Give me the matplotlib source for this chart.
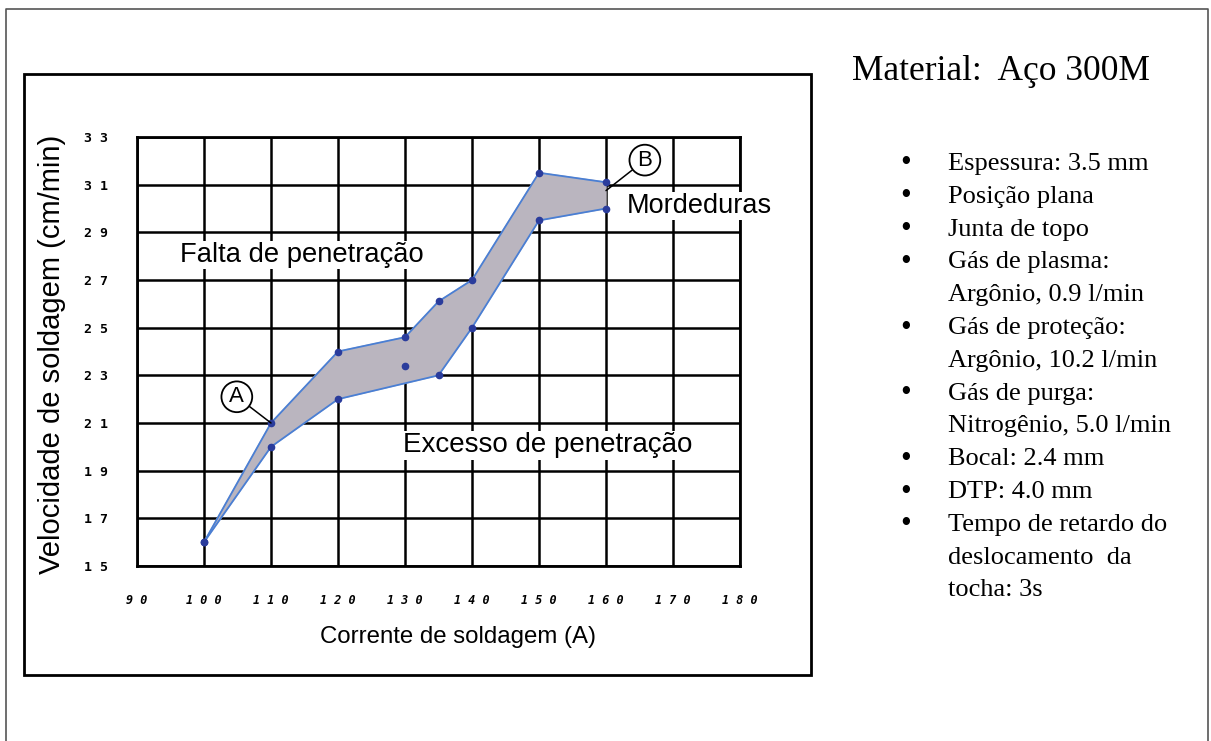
import matplotlib
matplotlib.use('Agg')
import matplotlib.pyplot as plt
from matplotlib.patches import Rectangle
from matplotlib.lines import Line2D

# dados ===================================================================================
corrente_sup = [100, 110, 120, 130, 135, 140, 150, 160]
velocidade_sup = [16, 21, 24, 24.6, 26.1, 27, 31.5, 31.1]
corrente_inf = [100, 110, 120, 135, 140, 150, 160]
velocidade_inf = [16, 20, 22, 23, 25, 29.5, 30]
corrente_extra = [130]
velocidade_extra = [23.4]

x_ticks = [90, 100, 110, 120, 130, 140, 150, 160, 170, 180]
x_tick_labels = ['9 0', '1 0 0', '1 1 0', '1 2 0', '1 3 0', '1 4 0', '1 5 0', '1 6 0', '1 7 0', '1 8 0']
y_ticks = [15, 17, 19, 21, 23, 25, 27, 29, 31, 33]
y_tick_labels = ['1 5', '1 7', '1 9', '2 1', '2 3', '2 5', '2 7', '2 9', '3 1', '3 3']

titulo = 'Material:  Aço 300M'
itens = [
    ['Espessura: 3.5 mm'],
    ['Posição plana'],
    ['Junta de topo'],
    ['Gás de plasma:', 'Argônio, 0.9 l/min'],
    ['Gás de proteção:', 'Argônio, 10.2 l/min'],
    ['Gás de purga:', 'Nitrogênio, 5.0 l/min'],
    ['Bocal: 2.4 mm'],
    ['DTP: 4.0 mm'],
    ['Tempo de retardo do', 'deslocamento  da', 'tocha: 3s'],
]

W, H = 1211, 741
fig = plt.figure(figsize=(W / 100, H / 100), dpi=100)
fig.patch.set_facecolor('white')


def fx(px):
    return px / W


def fy(py):
    return 1 - py / H


# molduras ================================================================================
fig.add_artist(Line2D([fx(6), fx(6), fx(1208), fx(1208)], [fy(760), fy(9), fy(9), fy(760)],
                      transform=fig.transFigure, color='#555555', lw=1.2))
fig.add_artist(Rectangle((fx(24), fy(675)), fx(811) - fx(24), fy(74) - fy(675),
                         transform=fig.transFigure, fill=False, ec='black', lw=2))

# grafico =================================================================================
ax = fig.add_axes([fx(137), fy(566), fx(740) - fx(137), fy(137) - fy(566)])
ax.set_xlim(90, 180)
ax.set_ylim(15, 33)
ax.set_xticks(x_ticks)
ax.set_xticklabels(x_tick_labels, family='DejaVu Sans Mono', fontsize=8.5,
                   weight='bold', style='italic')
ax.set_yticks(y_ticks)
ax.set_yticklabels(y_tick_labels, family='DejaVu Sans Mono', fontsize=9.5, weight='bold')
ax.tick_params(length=0)
ax.tick_params(axis='x', pad=20)
ax.tick_params(axis='y', pad=21)
ax.grid(True, color='black', lw=1.8)
ax.set_axisbelow(True)
for s in ax.spines.values():
    s.set_linewidth(2)

poly_x = corrente_sup + corrente_inf[::-1]
poly_y = velocidade_sup + velocidade_inf[::-1]
ax.fill(poly_x, poly_y, color='#bab5bf', zorder=2)
ax.plot(corrente_sup, velocidade_sup, color='#4a7fd4', lw=1.3, zorder=3)
ax.plot(corrente_inf, velocidade_inf, color='#4a7fd4', lw=1.3, zorder=3)
ax.plot(corrente_sup, velocidade_sup, 'o', color='#2a3c9c', ms=4.5, zorder=4)
ax.plot(corrente_inf, velocidade_inf, 'o', color='#2a3c9c', ms=4.5, zorder=4)
ax.plot(corrente_extra, velocidade_extra, 'o', color='#2a3c9c', ms=4.5, zorder=4)

caixa = dict(fc='white', ec='none', pad=1)
ax.text(96.4, 28.05, 'Falta de penetração', family='Liberation Sans', fontsize=19.7,
        ha='left', va='center', bbox=caixa, zorder=5)
ax.text(129.7, 20.07, 'Excesso de penetração', family='Liberation Sans', fontsize=20,
        ha='left', va='center', bbox=caixa, zorder=5)
ax.text(163.1, 30.1, 'Mordeduras', family='Liberation Sans', fontsize=19.5,
        ha='left', va='center', bbox=caixa, zorder=5, clip_on=False)

circulo = dict(boxstyle='circle,pad=0.22', fc='white', ec='black', lw=1.3)
linha = dict(arrowstyle='-', color='black', lw=1.1, shrinkA=0, shrinkB=0)
ax.annotate('A', xy=(110, 21), xytext=(104.9, 22.1), family='Liberation Sans', fontsize=16,
            ha='center', va='center', bbox=circulo, arrowprops=linha, zorder=6)
ax.annotate('B', xy=(160, 30.75), xytext=(165.8, 32.03), family='Liberation Sans', fontsize=16,
            ha='center', va='center', bbox=circulo, arrowprops=linha, zorder=6)

fig.text(fx(52), fy(354), 'Velocidade de soldagem (cm/min)', rotation=90,
         family='Liberation Sans', fontsize=21, ha='center', va='center')
fig.text(fx(458), fy(637), 'Corrente de soldagem (A)', family='Liberation Sans',
         fontsize=17.3, ha='center', va='center')

# texto lateral ===========================================================================
fig.text(fx(852), fy(72), titulo, family='Liberation Serif', fontsize=25.5,
         ha='left', va='center')
linha_y = 164
for item in itens:
    fig.text(fx(906), fy(linha_y), '•', family='Liberation Serif', fontsize=22,
             ha='center', va='center')
    for t in item:
        fig.text(fx(948), fy(linha_y), t, family='Liberation Serif', fontsize=19,
                 ha='left', va='center')
        linha_y += 32.8

fig.savefig('out.png', dpi=100)
